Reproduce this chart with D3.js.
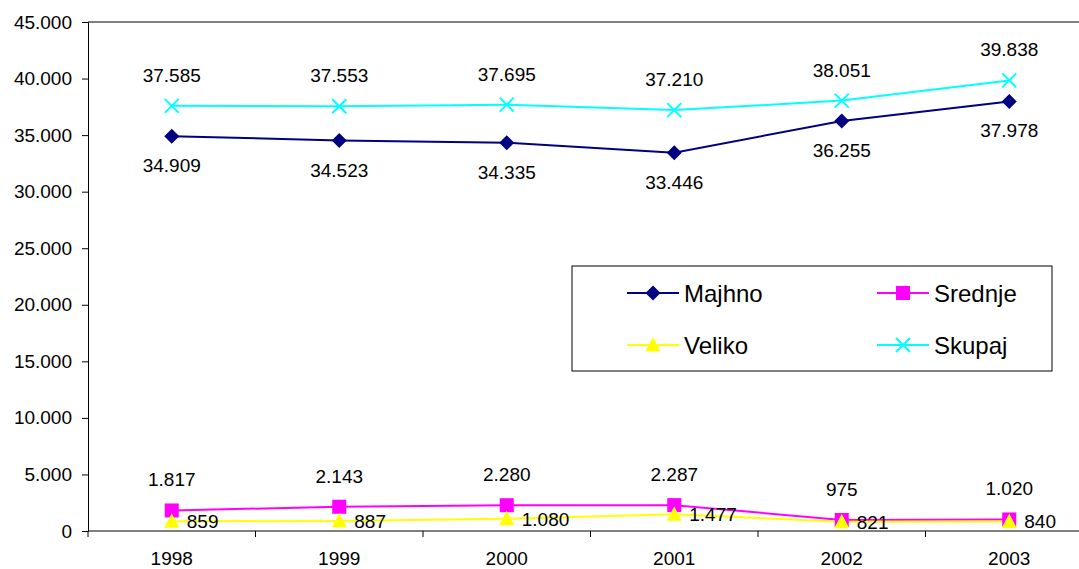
<!DOCTYPE html>
<html>
<head>
<meta charset="utf-8">
<script src="https://cdn.jsdelivr.net/npm/d3@7"></script>
<style>
  html, body { margin: 0; padding: 0; background: #fff; }
  svg { display: block; font-family: "Liberation Sans", Arial, sans-serif; }
</style>
</head>
<body>
<svg id="chart" width="1079" height="569"></svg>
<script>
// Years on the category axis
const years = ["1998", "1999", "2000", "2001", "2002", "2003"];

// Series values
const majhno  = [34909, 34523, 34335, 33446, 36255, 37978];
const srednje = [1817, 2143, 2280, 2287, 975, 1020];
const veliko  = [859, 887, 1080, 1477, 821, 840];
const skupaj  = [37585, 37553, 37695, 37210, 38051, 39838];

// Value axis ticks
const yTicks = [0, 5000, 10000, 15000, 20000, 25000, 30000, 35000, 40000, 45000];

const fmt = v => d3.format(",")(v).replace(/,/g, ".");

const series = [
  { name: "Majhno",  values: majhno,  color: "#000080", marker: "diamond",  label: "below" },
  { name: "Srednje", values: srednje, color: "#FF00FF", marker: "square",   label: "above" },
  { name: "Veliko",  values: veliko,  color: "#FFFF00", marker: "triangle", label: "right" },
  { name: "Skupaj",  values: skupaj,  color: "#00FFFF", marker: "cross",    label: "above" }
];

const svg = d3.select("#chart");
const plotLeft = 88, plotTop = 22, plotBottom = 531, plotRight = 1093;
const labelSize = 19;

const x = d3.scaleBand().domain(years).range([plotLeft, plotRight]);
const y = d3.scaleLinear().domain([0, 45000]).range([plotBottom, plotTop]);
const cx = d => x(d) + x.bandwidth() / 2;

// Plot frame (top border)
svg.append("line").attr("x1", plotLeft).attr("x2", plotRight)
  .attr("y1", plotTop).attr("y2", plotTop).attr("stroke", "#000").attr("stroke-width", 1);

// Y axis
const yAxis = svg.append("g").attr("transform", `translate(${plotLeft},0)`)
  .call(d3.axisLeft(y).tickValues(yTicks).tickFormat(fmt).tickSize(6).tickPadding(10));
yAxis.select(".domain").attr("stroke", "#000");
yAxis.selectAll(".tick line").attr("stroke", "#000");
yAxis.selectAll("text").attr("font-size", labelSize).attr("fill", "#000")
  .attr("font-family", "Liberation Sans, Arial, sans-serif");

// X axis with ticks between categories
const xAxis = svg.append("g").attr("transform", `translate(0,${plotBottom})`);
xAxis.append("line").attr("x1", plotLeft).attr("x2", plotRight).attr("stroke", "#000");
const bounds = years.map(d => x(d)).concat([plotRight]);
xAxis.selectAll("line.tk").data(bounds).join("line").attr("class", "tk")
  .attr("x1", d => d).attr("x2", d => d).attr("y1", 0).attr("y2", 6).attr("stroke", "#000");
xAxis.selectAll("text.yr").data(years).join("text").attr("class", "yr")
  .attr("x", d => cx(d)).attr("y", 34).attr("text-anchor", "middle")
  .attr("font-size", labelSize).attr("fill", "#000").text(d => d);

function diamondPath(r) { return `M0,${-r}L${r},0L0,${r}L${-r},0Z`; }

// Marker shapes
function drawMarker(g, type, color) {
  if (type === "diamond") {
    g.append("path").attr("d", diamondPath(7.5)).attr("fill", color);
  } else if (type === "square") {
    g.append("rect").attr("x", -7).attr("y", -7).attr("width", 14).attr("height", 14)
      .attr("fill", color);
  } else if (type === "triangle") {
    g.append("path").attr("d", "M0,-8L7.5,6.5L-7.5,6.5Z").attr("fill", color);
  } else if (type === "cross") {
    g.append("path").attr("d", "M-7,-7L7,7M-7,7L7,-7")
      .attr("stroke", color).attr("stroke-width", 2).attr("fill", "none");
  }
}

const line = d3.line().x((d, i) => cx(years[i])).y(d => y(d));

series.forEach(s => {
  svg.append("path").datum(s.values).attr("d", line)
    .attr("fill", "none").attr("stroke", s.color).attr("stroke-width", 2);
});

series.forEach(s => {
  s.values.forEach((v, i) => {
    const g = svg.append("g").attr("transform", `translate(${cx(years[i])},${y(v)})`);
    drawMarker(g, s.marker, s.color);
  });
});

// Data labels
series.forEach(s => {
  s.values.forEach((v, i) => {
    const px = cx(years[i]), py = y(v);
    const t = svg.append("text").attr("font-size", labelSize).attr("fill", "#000").text(fmt(v));
    if (s.label === "above") {
      t.attr("x", px).attr("y", py - 24).attr("text-anchor", "middle");
    } else if (s.label === "below") {
      t.attr("x", px).attr("y", py + 36).attr("text-anchor", "middle");
    } else {
      t.attr("x", px + 15).attr("y", py + 7).attr("text-anchor", "start");
    }
  });
});

// Legend
const lg = svg.append("g");
lg.append("rect").attr("x", 572).attr("y", 266).attr("width", 480).attr("height", 105)
  .attr("fill", "#fff").attr("stroke", "#000").attr("stroke-width", 1);
const legendPos = [[627, 293], [877, 293], [627, 345], [877, 345]];
series.forEach((s, i) => {
  const [lx, ly] = legendPos[i];
  lg.append("line").attr("x1", lx).attr("x2", lx + 52).attr("y1", ly).attr("y2", ly)
    .attr("stroke", s.color).attr("stroke-width", 2);
  const g = lg.append("g").attr("transform", `translate(${lx + 26},${ly})`);
  drawMarker(g, s.marker, s.color);
  lg.append("text").attr("x", lx + 57).attr("y", ly + 9).attr("font-size", 24)
    .attr("fill", "#000").text(s.name);
});
</script>
</body>
</html>
